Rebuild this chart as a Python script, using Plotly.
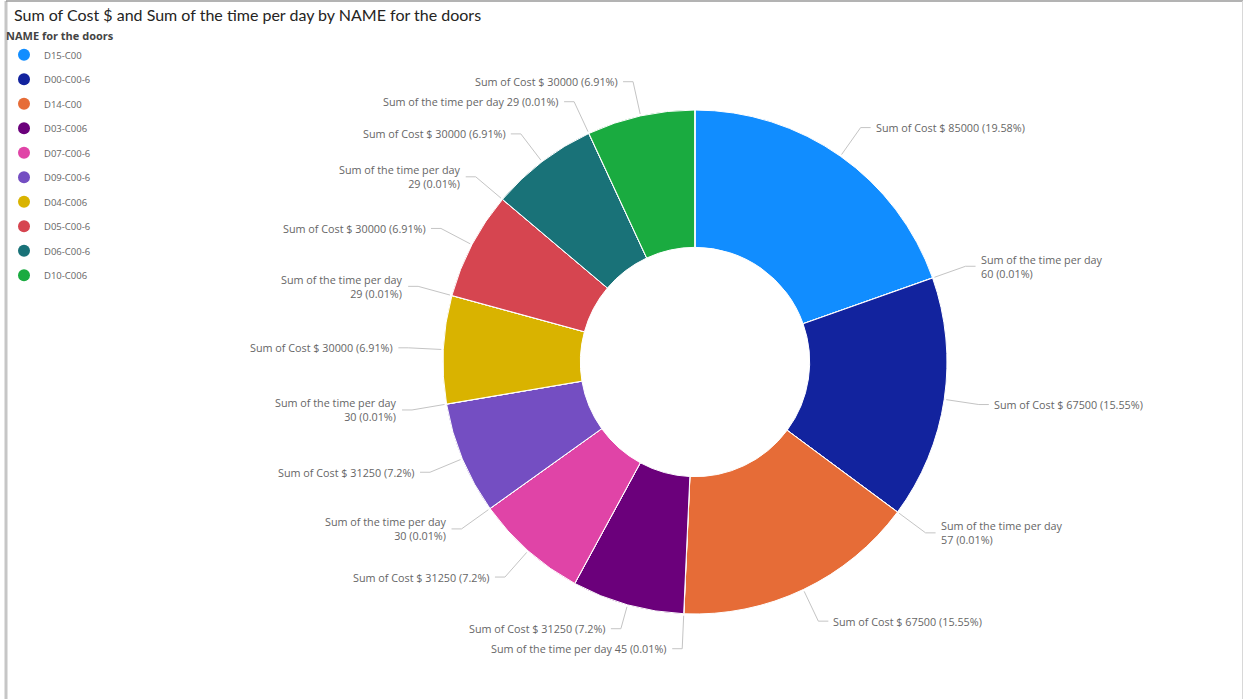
import math
import plotly.graph_objects as go

# ---------------- data ----------------
doors = ["D15-C00", "D00-C00-6", "D14-C00", "D03-C006", "D07-C00-6",
         "D09-C00-6", "D04-C006", "D05-C00-6", "D06-C00-6", "D10-C006"]
cost = [85000, 67500, 67500, 31250, 31250, 31250, 30000, 30000, 30000, 30000]
time_per_day = [60, 57, 45, 30, 30, 30, 29, 29, 29, 29]
door_colors = ["#118DFF", "#12239E", "#E66C37", "#6B007B", "#E044A7",
               "#744EC2", "#D9B300", "#D64550", "#197278", "#1AAB40"]
# labels Power BI dropped because of collisions
hidden_labels = {("D03-C006", "time"), ("D10-C006", "time")}

# ---------------- geometry ----------------
W, H = 1244, 699
CX, CY, R = 695, 362, 252
HOLE = 0.455
LABEL_SIZE = 10.8
LABEL_FONT = dict(family="Open Sans, DejaVu Sans, sans-serif", size=LABEL_SIZE, color="#666666")
LINE_COLOR = "#c4c4c4"
LINE_H = 14
GAP = 6

values, names, kinds, slice_colors = [], [], [], []
for d, c, t, col in zip(doors, cost, time_per_day, door_colors):
    values += [c, t]
    names += [d + " | Sum of Cost $", d + " | Sum of the time per day"]
    kinds += [(d, "cost"), (d, "time")]
    slice_colors += [col, col]

total = sum(values)


def pct(v):
    s = f"{v / total * 100:.2f}".rstrip("0").rstrip(".")
    return s + "%"


def px(x):
    return x / W


def py(y):
    return 1 - y / H


fig = go.Figure()

fig.add_trace(go.Pie(
    labels=names, values=values, sort=False, direction="clockwise", rotation=0,
    hole=HOLE, marker=dict(colors=slice_colors, line=dict(color="white", width=1)),
    textinfo="none", showlegend=False,
    domain=dict(x=[px(CX - R), px(CX + R)], y=[py(CY + R), py(CY - R)]),
    hovertemplate="%{label}<br>%{value}<extra></extra>",
))

# legend entries (one per door)
for d, col in zip(doors, door_colors):
    fig.add_trace(go.Scatter(
        x=[None], y=[None], mode="markers", name=d, legendgroup=d,
        marker=dict(color=col, size=8, symbol="circle"), hoverinfo="skip"))

# ---------- data labels: compute positions ----------
labels = []
cum = 0.0
for v, (d, kind) in zip(values, kinds):
    mid = cum + v / 2
    cum += v
    if (d, kind) in hidden_labels:
        continue
    th = 2 * math.pi * mid / total
    s, c = math.sin(th), math.cos(th)
    if kind == "cost":
        text = f"Sum of Cost $ {v} ({pct(v)})"
        nlines = 1
    else:
        wrap = abs(s) > 0.6
        text = f"Sum of the time per day{'<br>' if wrap else ' '}{v} ({pct(v)})"
        nlines = 2 if wrap else 1
    labels.append(dict(s=s, c=c, text=text, h=nlines * LINE_H,
                       y=CY - (R + 35) * c, right=s >= 0))

# simple collision avoidance: left side pushed upward from the bottom,
# right side pushed downward from the top
left = sorted([l for l in labels if not l["right"]], key=lambda l: -l["y"])
for a, b in zip(left, left[1:]):
    lim = a["y"] - (a["h"] + b["h"]) / 2 - GAP
    if b["y"] > lim:
        b["y"] = lim
right = sorted([l for l in labels if l["right"]], key=lambda l: l["y"])
for a, b in zip(right, right[1:]):
    lim = a["y"] + (a["h"] + b["h"]) / 2 + GAP
    if b["y"] < lim:
        b["y"] = lim

shapes = []
annotations = []
for l in labels:
    s, c = l["s"], l["c"]
    x0, y0 = CX + (R + 2) * s, CY - (R + 2) * c
    y1 = l["y"]
    r1 = (CY - y1) / c if abs(c) > 1e-6 else R + 35
    x1 = CX + r1 * s
    x2 = x1 + (10 if l["right"] else -10)
    shapes.append(dict(
        type="path", xref="paper", yref="paper",
        path=f"M {px(x0)},{py(y0)} L {px(x1)},{py(y1)} L {px(x2)},{py(y1)}",
        line=dict(color=LINE_COLOR, width=1)))
    annotations.append(dict(
        x=px(x2 + (3 if l["right"] else -3)), y=py(y1), xref="paper", yref="paper",
        text=l["text"], showarrow=False, font=LABEL_FONT,
        xanchor="left" if l["right"] else "right", yanchor="middle",
        align="left" if l["right"] else "right"))

# title
annotations.append(dict(
    x=px(12), y=py(14), xref="paper", yref="paper", xanchor="left", yanchor="middle",
    text="Sum of Cost $ and Sum of the time per day by NAME for the doors",
    showarrow=False, font=dict(family="Lato, Open Sans, sans-serif", size=16, color="#252423")))

# frame
shapes += [
    dict(type="line", xref="paper", yref="paper", x0=px(6), x1=px(6), y0=0, y1=py(1),
         line=dict(color="#c6c6c6", width=3)),
    dict(type="line", xref="paper", yref="paper", x0=px(6), x1=px(1243), y0=py(1), y1=py(1),
         line=dict(color="#9a9a9a", width=1.5)),
    dict(type="line", xref="paper", yref="paper", x0=px(1242.5), x1=px(1242.5), y0=0, y1=py(1),
         line=dict(color="#d8d8d8", width=1)),
]

fig.update_layout(
    width=W, height=H, margin=dict(l=0, r=0, t=0, b=0),
    paper_bgcolor="white", plot_bgcolor="white",
    xaxis=dict(visible=False), yaxis=dict(visible=False),
    showlegend=True,
    legend=dict(
        x=px(4), y=py(26), xanchor="left", yanchor="top",
        title=dict(text="<b>NAME for the doors</b>", side="top",
                   font=dict(family="Open Sans, sans-serif", size=11, color="#444444")),
        font=dict(family="Open Sans, sans-serif", size=9.5, color="#666666"),
        itemsizing="constant", itemwidth=30, tracegroupgap=5.5,
        bgcolor="rgba(0,0,0,0)"),
    shapes=shapes, annotations=annotations,
)

fig.write_html("out.html")
